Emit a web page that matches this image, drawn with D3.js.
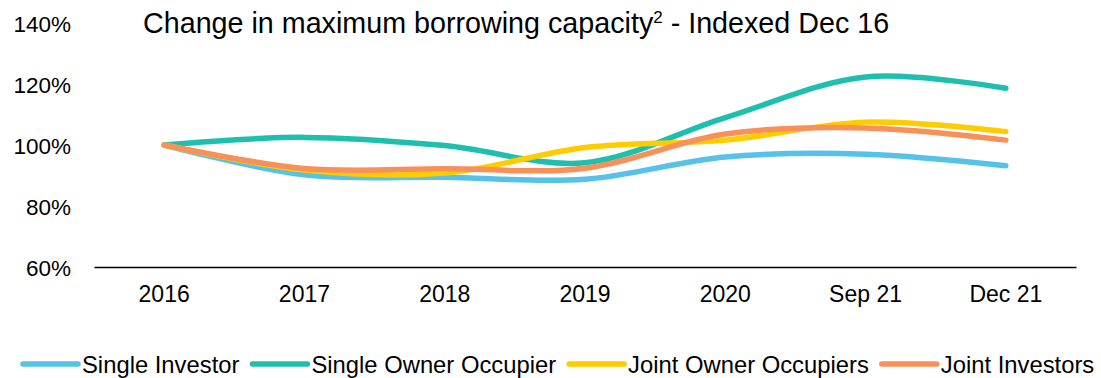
<!DOCTYPE html>
<html>
<head>
<meta charset="utf-8">
<script src="https://cdn.jsdelivr.net/npm/d3@7"></script>
<style>
  html, body { margin: 0; padding: 0; background: #fff; }
  svg { display: block; font-family: "Liberation Sans", Arial, sans-serif; }
</style>
</head>
<body>
<svg id="chart" width="1101" height="378"></svg>
<script>
const categories = ["2016", "2017", "2018", "2019", "2020", "Sep 21", "Dec 21"];
const yTicks = [60, 80, 100, 120, 140];
const singleInvestor = [100, 90.2, 89.4, 88.8, 96.1, 97.0, 93.2];
const singleOwnerOccupier = [100, 102.5, 99.8, 94.2, 109.0, 122.3, 118.6];
const jointOwnerOccupiers = [100, 91.8, 90.8, 99.2, 101.6, 107.5, 104.4];
const jointInvestors = [100, 92.3, 92.2, 92.4, 103.6, 105.6, 101.6];
const seriesNames = ["Single Investor", "Single Owner Occupier", "Joint Owner Occupiers", "Joint Investors"];
const seriesColors = ["#56C1E9", "#1FBFAF", "#FFCC00", "#F8905A"];
const titleText = "Change in maximum borrowing capacity";

const series = [singleInvestor, singleOwnerOccupier, jointOwnerOccupiers, jointInvestors]
  .map((values, i) => ({ name: seriesNames[i], color: seriesColors[i], values }));

const svg = d3.select("#chart");
const plotLeft = 94, plotRight = 1076, plotTop = 23, plotBottom = 267;

const x = d3.scaleBand().domain(categories).range([plotLeft, plotRight]);
const y = d3.scaleLinear().domain([60, 140]).range([plotBottom, plotTop]);
const cx = c => x(c) + x.bandwidth() / 2;

// Y axis labels
const yAxis = d3.axisLeft(y).tickValues(yTicks).tickFormat(d => d + "%").tickSize(0).tickPadding(0);
const yg = svg.append("g").attr("transform", `translate(71,1)`).call(yAxis);
yg.select(".domain").remove();
yg.selectAll("text").attr("font-size", 22.5).attr("fill", "#000").attr("font-family", "Liberation Sans, Arial, sans-serif");

// X axis
const xAxis = d3.axisBottom(x).tickSize(0).tickPadding(0);
const xg = svg.append("g").attr("transform", `translate(0,${plotBottom})`).call(xAxis);
xg.select(".domain").attr("stroke", "#000").attr("stroke-width", 1.6);
xg.selectAll("text").attr("font-size", 23).attr("fill", "#000").attr("dy", "1.5em").attr("font-family", "Liberation Sans, Arial, sans-serif");

// Title
const title = svg.append("text").attr("x", 143).attr("y", 33).attr("font-size", 28.7).attr("fill", "#000");
title.append("tspan").text(titleText);
title.append("tspan").attr("font-size", 17).attr("dy", -10).text("2");
title.append("tspan").attr("dy", 10).text(" - Indexed Dec 16");

// Lines
const line = d3.line()
  .x((d, i) => cx(categories[i]))
  .y(d => y(d))
  .curve(d3.curveCatmullRom.alpha(0.5));

svg.append("g").selectAll("path").data(series).join("path")
  .attr("d", d => line(d.values))
  .attr("fill", "none")
  .attr("stroke", d => d.color)
  .attr("stroke-width", 5.5)
  .attr("stroke-linecap", "round")
  .attr("stroke-linejoin", "round");

// Legend
const legendY = 364;
const legend = svg.append("g");
let lx = 23;
series.forEach(s => {
  legend.append("line").attr("x1", lx).attr("x2", lx + 55).attr("y1", legendY).attr("y2", legendY)
    .attr("stroke", s.color).attr("stroke-width", 5.5).attr("stroke-linecap", "round");
  const t = legend.append("text").attr("x", lx + 59).attr("y", legendY).attr("dy", "0.36em")
    .attr("font-size", 23.8).attr("fill", "#000").text(s.name);
  lx += 59 + t.node().getComputedTextLength() + 13;
});
</script>
</body>
</html>
